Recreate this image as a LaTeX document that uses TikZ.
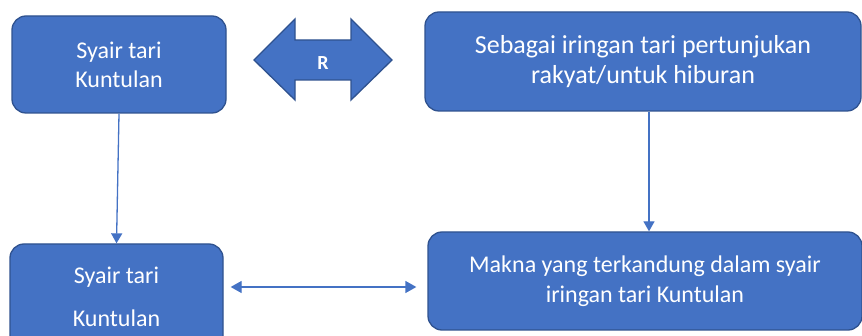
\documentclass[tikz,border=0pt]{standalone}
\usepackage{fontspec}
\setmainfont{Carlito}
\usetikzlibrary{arrows.meta}
\definecolor{boxblue}{HTML}{4472C4}
\definecolor{boxline}{HTML}{2F528F}
\tikzset{
  box/.style={draw=boxline,line width=1.3pt,fill=boxblue,rounded corners=14pt,
    text=white,align=center,font=\fontsize{24}{29}\selectfont},
  conn/.style={draw=boxblue,line width=1.3pt,-{Triangle[length=10pt,width=11pt]}},
  biconn/.style={draw=boxblue,line width=1.3pt,{Triangle[length=11pt,width=12pt]}-{Triangle[length=11pt,width=12pt]}}
}
\begin{document}
\begin{tikzpicture}[x=1pt,y=-1pt]
\clip (0,0) rectangle (862,336);
\useasboundingbox (0,0) rectangle (862,336);
\node[box,minimum width=214,minimum height=97] (SA) at (119,64.5) {Syair tari\\Kuntulan};
\node[box,minimum width=436,minimum height=99,font=\fontsize{26}{30}\selectfont] (SB) at (643,61.5) {Sebagai iringan tari pertunjukan\\rakyat/untuk hiburan};
\node[box,minimum width=213,minimum height=106,font=\fontsize{24}{43}\selectfont] (SC) at (116.5,297) {Syair tari\\Kuntulan};
\node[box,minimum width=434,minimum height=98,font=\fontsize{24}{30}\selectfont] (SD) at (645,281) {Makna yang terkandung dalam syair\\iringan tari Kuntulan};
% double arrow between the top boxes
\draw[draw=boxline,line width=1.3pt,fill=boxblue] (254,60) -- (295,19) -- (295,40) -- (351,40) -- (351,19)
  -- (392,60) -- (351,100) -- (351,80) -- (295,80) -- (295,100) -- cycle;
\node[text=white,font=\fontsize{20}{22}\selectfont\bfseries] (R) at (323,63) {R};
\draw[conn] (SA.south) -- (SC.north);
\draw[conn] ([xshift=6pt]SB.south) -- ([xshift=4pt]SD.north);
\draw[biconn] ([xshift=7pt,yshift=10pt]SC.east) -- ([xshift=-11pt,yshift=-6pt]SD.west);
\end{tikzpicture}
\end{document}
